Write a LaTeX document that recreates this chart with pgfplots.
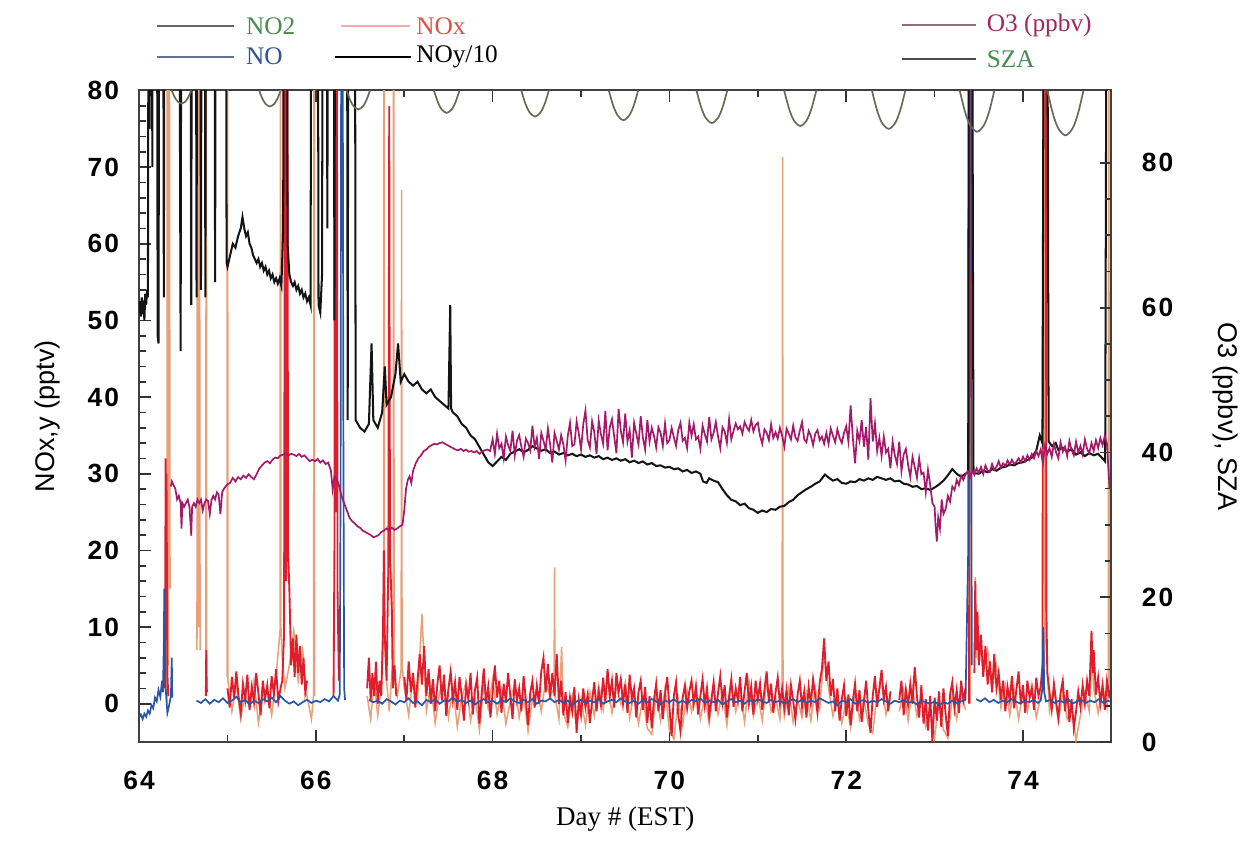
\documentclass[border=0pt]{standalone}
\usepackage{fontspec}
\setmainfont{Liberation Serif}
\setsansfont{Liberation Sans}
\newfontfamily\tickfont[LetterSpace=8]{Liberation Sans}
\usepackage{pgfplots}
\pgfplotsset{compat=1.18}

\definecolor{noxred}{RGB}{222,30,45}
\definecolor{notwo}{RGB}{233,160,120}
\definecolor{noblue}{RGB}{40,85,165}
\definecolor{noyblack}{RGB}{20,20,20}
\definecolor{othree}{RGB}{165,25,105}
\definecolor{szacol}{RGB}{105,105,85}
\definecolor{txtgreen}{RGB}{70,140,80}
\definecolor{txtred}{RGB}{220,80,70}
\definecolor{txtblue}{RGB}{50,80,150}
\definecolor{txtpurple}{RGB}{160,40,90}

\pgfplotsset{
  common/.style={
    scale only axis, width=288pt, height=193pt,
    xmin=64, xmax=75,
    axis line style={black!75, line width=0.6pt},
    tick style={black!80, line width=0.5pt},
    major tick length=3.5pt, minor tick length=2pt,
    tick align=inside,
    /pgf/number format/assume math mode=true,
    tick label style={font=\tickfont\bfseries\fontsize{7.8}{9}\selectfont},
    unbounded coords=jump,
  },
}

\begin{document}
\begin{tikzpicture}
\begin{axis}[common, name=main,
  ymin=-5, ymax=80,
  xtick={64,66,...,74}, minor xtick={65,67,...,75},
  ytick={0,10,...,80}, minor y tick num=4,
  ytick pos=left,
  xticklabel style={yshift=-5.2pt},
  yticklabel style={xshift=-2.4pt},
  xlabel={Day \# (EST)},
  xlabel style={font=\fontsize{8}{9}\selectfont, at={(axis description cs:0.5,-0.1175)}, anchor=center},
  ylabel={NOx,y (pptv)},
  ylabel style={font=\sffamily\fontsize{8}{9}\selectfont, at={(axis description cs:-0.094,0.5)}, anchor=center},
]
% NO2
\addplot[notwo, line width=0.45pt] coordinates {
(64.315,0) (64.320,120) (64.330,5) (64.340,120) (64.350,15) (64.36,nan)
(64.655,7) (64.660,120) (64.670,10) (64.680,120) (64.690,7) (64.70,nan)
(64.755,1.3) (64.760,120) (64.765,1.5) (64.77,nan)
(64.995,3.5) (65.000,120) (65.005,3) (65.05,-1.0) (65.10,2.5) (65.15,-2.0) (65.20,1.5) (65.25,-0.5) (65.30,3.0) (65.35,-2.5) (65.40,1.0) (65.45,2.0) (65.50,-1.5) (65.55,3.5) (65.595,9.6) (65.600,120) (65.605,10) (65.62,6) (65.65,2) (65.70,5) (65.75,9.5) (65.80,3) (65.85,7) (65.90,1) (65.95,-2) (65.975,1.3) (65.980,120) (65.985,1) (66.0,nan)
(66.58,1) (66.62,-2) (66.66,3) (66.70,-1.5) (66.74,2) (66.765,8.7) (66.770,120) (66.775,9) (66.80,3) (66.83,-1) (66.86,4) (66.875,5) (66.880,120) (66.885,4) (66.92,1) (66.965,4.4) (66.970,67) (66.975,5)
(67.00,2.0) (67.05,-1.5) (67.10,3.5) (67.15,0.5) (67.20,11.7) (67.25,-1.0) (67.30,2.5) (67.35,-2.5) (67.40,1.5) (67.45,3.0) (67.50,-1.8) (67.55,2.2) (67.60,-3.0) (67.65,0.8) (67.70,2.8) (67.75,-2.2) (67.80,1.0) (67.85,-3.4) (67.90,2.4) (67.95,-0.6)
(68.00,3.2) (68.05,-1.4) (68.10,1.8) (68.15,-2.6) (68.20,0.4) (68.25,2.6) (68.30,-1.8) (68.35,1.2) (68.40,-3.6) (68.45,0.6) (68.50,2.0) (68.55,-1.0) (68.60,3.0) (68.65,1.0) (68.695,2) (68.700,17.8) (68.705,1) (68.75,-2.0) (68.78,7.4) (68.80,-1.2) (68.85,-3.0) (68.90,1.0) (68.95,-3.0)
(69.00,0.5) (69.05,-2.8) (69.10,1.5) (69.15,-1.6) (69.20,2.4) (69.25,-0.8) (69.30,3.0) (69.35,-1.2) (69.40,2.2) (69.45,0.0) (69.50,2.8) (69.55,-1.8) (69.60,1.4) (69.65,-2.6) (69.70,0.8) (69.75,-3.2) (69.80,-4.0) (69.85,1.2) (69.90,-2.2) (69.95,2.0)
(70.00,-3.5) (70.05,-4.6) (70.10,0.6) (70.15,-2.8) (70.20,1.8) (70.25,-1.0) (70.30,2.4) (70.35,-2.0) (70.40,1.0) (70.45,-2.6) (70.50,2.2) (70.55,-1.4) (70.60,1.6) (70.65,-2.8) (70.70,2.6) (70.75,-1.0) (70.80,1.4) (70.85,-2.4) (70.90,3.0) (70.95,-1.6)
(71.00,1.2) (71.05,-2.2) (71.10,2.8) (71.15,-1.0) (71.20,0.8) (71.25,-2.0) (71.275,1.5) (71.280,71.3) (71.285,1.0) (71.30,-1.6) (71.35,2.0) (71.40,-2.4) (71.45,0.6) (71.50,-1.8) (71.55,1.4) (71.60,-2.2) (71.65,2.0) (71.70,-0.6) (71.75,6.5) (71.80,2.0) (71.85,-1.6) (71.90,1.0) (71.95,-2.6)
(72.00,0.4) (72.05,-3.2) (72.10,1.6) (72.15,-2.0) (72.20,0.6) (72.25,-2.8) (72.30,-3.8) (72.35,1.2) (72.40,2.6) (72.45,-1.4) (72.50,0.8) (72.52,nan) (72.60,-1.0) (72.65,1.8) (72.70,-2.2) (72.75,2.0) (72.80,-1.6) (72.85,0.6) (72.90,-3.0) (72.95,-1.0)
(73.00,-4.4) (73.05,0.2) (73.10,-3.4) (73.15,-4.5) (73.20,1.0) (73.25,-2.0) (73.30,1.6) (73.35,-0.8) (73.37,nan)
(73.395,0) (73.400,120) (73.405,0) (73.41,nan)
(73.45,5) (73.46,16.5) (73.47,6) (73.50,9) (73.55,4) (73.60,7) (73.65,2) (73.70,5) (73.75,-0.5) (73.80,2.5) (73.85,-1.5) (73.90,2.0) (73.95,-2.0) (74.00,1.5) (74.05,-1.0) (74.10,2.5) (74.15,-1.8) (74.20,1.0) (74.245,5) (74.250,120) (74.255,11.7) (74.28,3) (74.30,-1.0) (74.35,2.0) (74.40,-2.4) (74.45,1.5) (74.50,-2.0) (74.55,-0.5) (74.60,-4.8) (74.65,-1.5) (74.70,1.5) (74.75,-1.0) (74.78,6.0) (74.80,2.0) (74.85,-1.2) (74.90,2.5) (74.95,-0.5) (74.965,3) (74.970,120) (74.975,2.0) (75.00,1.0)
};
% NOx
\addplot[noxred, line width=0.55pt] coordinates {
(64.290,2) (64.295,10) (64.300,32) (64.305,16) (64.310,30) (64.315,18) (64.320,4) (64.330,1) (64.34,nan)
(64.755,1) (64.760,7) (64.765,2) (64.770,1.5) (64.78,nan)
(65.000,2.0) (65.025,-0.5) (65.050,3.5) (65.075,0.8) (65.100,4.2) (65.125,1.0) (65.150,-1.2) (65.175,2.6) (65.200,0.5) (65.225,3.8) (65.250,-0.8) (65.275,2.2) (65.300,0.2) (65.325,4.0) (65.350,1.4) (65.375,-1.5) (65.400,3.0) (65.425,0.6) (65.450,2.4) (65.475,-0.6) (65.500,3.6) (65.525,1.2) (65.550,4.5) (65.575,0.3) (65.600,2.0)
(65.620,3) (65.640,9) (65.655,120) (65.665,16) (65.675,120) (65.685,20) (65.700,15) (65.720,5) (65.740,8.5) (65.760,3.5) (65.780,9) (65.800,4) (65.820,7.5) (65.840,2.5) (65.860,6) (65.880,1.5) (65.900,3) (65.91,nan)
(66.200,1) (66.210,20) (66.215,120) (66.225,25) (66.235,120) (66.245,15) (66.260,3) (66.27,nan)
(66.58,2) (66.60,6) (66.62,0.5) (66.64,4) (66.66,1) (66.68,5.5) (66.70,0) (66.72,3) (66.74,1) (66.76,10) (66.77,20) (66.78,9) (66.80,3) (66.82,18) (66.83,78) (66.835,40) (66.84,19) (66.86,12) (66.87,2) (66.89,5) (66.91,1) (66.93,nan)
(67.000,3.5) (67.025,0.5) (67.050,5.5) (67.075,1.5) (67.100,4.0) (67.125,-0.5) (67.150,3.0) (67.175,6.5) (67.200,2.5) (67.225,7.5) (67.250,1.0) (67.275,4.5) (67.300,0.0) (67.325,3.2) (67.350,-1.0) (67.375,2.6) (67.400,5.0) (67.425,0.4) (67.450,3.8) (67.475,-1.6) (67.500,2.0) (67.525,4.2) (67.550,0.5) (67.575,2.8) (67.600,-0.8) (67.625,3.5) (67.650,1.0) (67.675,-2.2) (67.700,2.4) (67.725,0.6) (67.750,4.0) (67.775,-1.4) (67.800,1.8) (67.825,3.4) (67.850,-2.6) (67.875,1.2) (67.900,4.6) (67.925,0.0) (67.950,2.2) (67.975,-1.8)
(68.000,1.5) (68.025,5.0) (68.050,0.8) (68.075,3.0) (68.100,-1.2) (68.125,2.6) (68.150,0.2) (68.175,4.0) (68.200,1.0) (68.225,-2.0) (68.250,3.2) (68.275,0.4) (68.300,2.0) (68.325,-1.0) (68.350,3.6) (68.375,0.6) (68.400,-2.8) (68.425,1.4) (68.450,3.0) (68.475,-0.5) (68.500,2.4) (68.525,0.0) (68.550,4.2) (68.575,6.0) (68.600,1.5) (68.625,5.2) (68.650,0.8) (68.675,4.0) (68.700,1.0) (68.725,6.5) (68.750,0.0) (68.775,3.0) (68.800,-1.5) (68.825,1.5) (68.850,-2.5) (68.875,0.8) (68.900,-1.0) (68.925,2.2) (68.950,-3.8) (68.975,0.5)
(69.000,-1.5) (69.025,2.0) (69.050,-0.5) (69.075,1.2) (69.100,-2.5) (69.125,0.4) (69.150,2.8) (69.175,-1.0) (69.200,1.6) (69.225,-0.2) (69.250,3.4) (69.275,0.2) (69.300,4.5) (69.325,1.0) (69.350,3.0) (69.375,-0.5) (69.400,4.0) (69.425,1.5) (69.450,3.2) (69.475,0.0) (69.500,2.5) (69.525,-1.2) (69.550,3.8) (69.575,0.6) (69.600,2.0) (69.625,-1.8) (69.650,1.5) (69.675,3.0) (69.700,-0.8) (69.725,2.2) (69.750,-2.5) (69.775,1.0) (69.800,-3.2) (69.825,0.5) (69.850,2.6) (69.875,-1.0) (69.900,1.8) (69.925,-2.0) (69.950,1.2) (69.975,3.5)
(70.000,-0.5) (70.025,-4.2) (70.050,1.0) (70.075,2.8) (70.100,-1.5) (70.125,-3.6) (70.150,0.8) (70.175,2.4) (70.200,-0.6) (70.225,1.6) (70.250,3.0) (70.275,0.0) (70.300,2.2) (70.325,-1.4) (70.350,1.0) (70.375,3.2) (70.400,-0.2) (70.425,2.0) (70.450,-1.6) (70.475,0.6) (70.500,2.8) (70.525,-1.0) (70.550,1.4) (70.575,3.6) (70.600,0.2) (70.625,2.4) (70.650,-1.8) (70.675,1.0) (70.700,3.2) (70.725,-0.4) (70.750,2.0) (70.775,0.4) (70.800,3.5) (70.825,-1.0) (70.850,1.6) (70.875,4.0) (70.900,0.0) (70.925,2.2) (70.950,-1.4) (70.975,3.0)
(71.000,0.6) (71.025,2.6) (71.050,-0.8) (71.075,1.8) (71.100,4.2) (71.125,0.2) (71.150,2.6) (71.175,-1.2) (71.200,1.4) (71.225,3.4) (71.250,0.0) (71.275,2.0) (71.300,-0.6) (71.325,1.8) (71.350,-1.5) (71.375,2.4) (71.400,0.4) (71.425,-2.0) (71.450,1.2) (71.475,3.0) (71.500,-0.4) (71.525,1.6) (71.550,-1.8) (71.575,2.2) (71.600,0.0) (71.625,3.2) (71.650,1.0) (71.675,-1.2) (71.700,2.8) (71.725,4.5) (71.750,8.5) (71.775,3.0) (71.800,5.5) (71.825,1.0) (71.850,3.2) (71.875,-1.0) (71.900,2.0) (71.925,-2.2) (71.950,0.6) (71.975,2.4)
(72.000,-1.6) (72.025,1.2) (72.050,-2.8) (72.075,0.4) (72.100,2.6) (72.125,-1.0) (72.150,1.8) (72.175,-2.4) (72.200,0.2) (72.225,3.0) (72.250,-0.8) (72.275,-3.8) (72.300,1.0) (72.325,3.6) (72.350,-0.4) (72.375,2.0) (72.400,4.4) (72.425,0.6) (72.450,2.2) (72.475,-1.0) (72.500,1.6) (72.525,nan) (72.600,0.5) (72.625,3.0) (72.650,-1.5) (72.675,1.8) (72.700,-0.2) (72.725,2.6) (72.750,0.0) (72.775,4.8) (72.800,1.0) (72.825,-1.8) (72.850,2.4) (72.875,-2.6) (72.900,0.6) (72.925,-3.5) (72.950,1.0) (72.975,-5.0)
(73.000,0.8) (73.025,-2.2) (73.050,1.6) (73.075,-3.0) (73.100,2.0) (73.125,-1.4) (73.150,-4.2) (73.175,1.2) (73.200,2.8) (73.225,-0.6) (73.250,1.8) (73.275,-1.2) (73.300,3.0) (73.325,0.4) (73.350,2.0) (73.365,nan)
(73.390,0) (73.400,120) (73.410,40) (73.415,nan)
(73.450,4) (73.460,16) (73.470,7) (73.485,12) (73.500,5) (73.525,9) (73.550,3.5) (73.575,7.5) (73.600,2.5) (73.625,5.5) (73.650,1.5) (73.675,6.5) (73.700,2.0) (73.725,4.0) (73.750,0.5) (73.775,3.0) (73.800,-1.0) (73.825,2.2) (73.850,0.4) (73.875,3.6) (73.900,-0.6) (73.925,1.8) (73.950,4.2) (73.975,0.0)
(74.000,2.4) (74.025,-1.2) (74.050,3.0) (74.075,0.8) (74.100,2.0) (74.125,-0.8) (74.150,3.4) (74.175,1.0) (74.200,2.2) (74.220,5) (74.235,120) (74.245,80) (74.255,120) (74.265,12) (74.275,4) (74.300,1.5) (74.325,-0.8) (74.350,2.6) (74.375,0.2) (74.400,-1.8) (74.425,1.4) (74.450,3.0) (74.475,-1.0) (74.500,1.8) (74.525,-2.4) (74.550,0.6) (74.575,-3.2) (74.600,-1.0) (74.625,1.6) (74.650,-0.4) (74.675,2.4) (74.700,0.0) (74.725,3.0) (74.750,1.0) (74.775,9.5) (74.790,4) (74.800,7.0) (74.825,1.2) (74.850,3.4) (74.875,0.0) (74.900,2.4) (74.925,-0.8) (74.950,3.0) (74.975,1.0) (75.000,2.0)
};
% NO
\addplot[noblue, line width=0.5pt] coordinates {
(64.00,-1.8) (64.02,-1.4) (64.04,-2.0) (64.06,-1.3) (64.08,-1.7) (64.10,-0.9) (64.12,-1.3) (64.14,-0.2) (64.16,-0.6) (64.18,0.8) (64.20,0.3) (64.22,1.8) (64.24,0.9) (64.26,3.0) (64.27,1.5) (64.28,8) (64.285,15) (64.29,10) (64.30,2) (64.31,0.4) (64.32,-1.2) (64.34,-0.2) (64.36,1.0) (64.37,6) (64.375,0.8) (64.38,nan)
(64.65,0.4) (64.70,0.1) (64.75,0.6) (64.80,0.0) (64.85,0.5) (64.90,0.2) (64.95,0.7) (65.00,0.1) (65.05,0.4) (65.10,0.9) (65.15,0.2) (65.20,0.5) (65.25,-0.1) (65.30,0.4) (65.35,0.1) (65.40,0.6) (65.45,0.3) (65.50,0.8) (65.55,0.2) (65.60,1.0) (65.65,0.4) (65.70,0.0) (65.75,0.3) (65.80,-0.2) (65.85,0.2) (65.90,0.5) (65.95,0.1) (66.00,0.4) (66.05,0.2) (66.10,0.6) (66.15,0.3) (66.20,1.0) (66.25,0.4) (66.27,1.2) (66.28,30) (66.29,120) (66.30,120) (66.31,40) (66.32,2) (66.33,0.5) (66.34,nan)
(66.60,0.5) (66.65,0.2) (66.70,0.4) (66.75,0.0) (66.80,0.6) (66.85,0.3) (66.90,-0.1) (66.95,0.4) (67.00,0.2) (67.05,0.7) (67.10,0.1) (67.15,0.3) (67.20,-0.2) (67.25,0.5) (67.30,0.2) (67.35,0.6) (67.40,0.0) (67.45,0.4) (67.50,0.3) (67.55,0.8) (67.60,0.2) (67.65,0.5) (67.70,0.1) (67.75,0.4) (67.80,-0.1) (67.85,0.3) (67.90,0.6) (67.95,0.2)
(68.00,0.4) (68.05,0.0) (68.10,0.5) (68.15,0.2) (68.20,0.7) (68.25,0.3) (68.30,0.1) (68.35,0.5) (68.40,0.2) (68.45,0.6) (68.50,0.0) (68.55,0.4) (68.60,0.3) (68.65,0.7) (68.70,0.2) (68.75,0.5) (68.80,0.1) (68.85,0.4) (68.90,-0.2) (68.95,0.3)
(69.00,0.5) (69.05,0.1) (69.10,0.4) (69.15,0.2) (69.20,0.6) (69.25,0.0) (69.30,0.3) (69.35,0.5) (69.40,0.2) (69.45,0.7) (69.50,0.3) (69.55,0.1) (69.60,0.4) (69.65,0.0) (69.70,0.5) (69.75,0.2) (69.80,0.6) (69.85,0.3) (69.90,-0.1) (69.95,0.4)
(70.00,0.2) (70.05,0.6) (70.10,0.1) (70.15,0.4) (70.20,0.0) (70.25,0.5) (70.30,0.3) (70.35,0.7) (70.40,0.1) (70.45,0.4) (70.50,0.2) (70.55,0.5) (70.60,-0.1) (70.65,0.3) (70.70,0.6) (70.75,0.2) (70.80,0.4) (70.85,0.0) (70.90,0.5) (70.95,0.2)
(71.00,0.6) (71.05,0.3) (71.10,0.1) (71.15,0.5) (71.20,0.2) (71.25,0.4) (71.30,0.0) (71.35,0.3) (71.40,0.6) (71.45,0.2) (71.50,0.5) (71.55,0.1) (71.60,0.4) (71.65,0.2) (71.70,0.7) (71.75,0.4) (71.80,0.1) (71.85,0.3) (71.90,-0.2) (71.95,0.4)
(72.00,0.2) (72.05,0.6) (72.10,0.0) (72.15,0.3) (72.20,0.5) (72.25,0.1) (72.30,0.4) (72.35,0.2) (72.40,0.6) (72.45,0.3) (72.50,0.0) (72.55,0.4) (72.60,0.2) (72.65,0.5) (72.70,0.1) (72.75,0.3) (72.80,-0.1) (72.85,0.4) (72.90,0.2) (72.95,0.0)
(73.00,0.3) (73.05,-0.2) (73.10,0.2) (73.15,0.0) (73.20,0.4) (73.25,0.1) (73.30,0.3) (73.35,0.5) (73.38,20) (73.39,120) (73.41,120) (73.42,5) (73.43,nan)
(73.47,0.6) (73.52,0.3) (73.57,0.7) (73.62,0.2) (73.67,0.5) (73.72,0.1) (73.77,0.4) (73.82,0.2) (73.87,0.6) (73.92,0.3) (73.97,0.0) (74.02,0.4) (74.07,0.2) (74.12,0.5) (74.17,0.1) (74.20,0.4) (74.22,2) (74.23,10) (74.24,1.5) (74.26,0.3) (74.31,0.5) (74.36,0.1) (74.41,0.4) (74.46,0.2) (74.51,0.6) (74.56,0.0) (74.61,0.3) (74.66,0.5) (74.71,0.1) (74.76,0.4) (74.81,0.2) (74.86,0.6) (74.91,0.1) (74.96,0.4) (75.00,0.2)
};
% NOy/10
\addplot[noyblack, line width=0.6pt] coordinates {
(64.00,51) (64.01,52.5) (64.02,50.5) (64.03,53) (64.04,51.5) (64.05,52) (64.06,50) (64.07,53.5) (64.08,52) (64.09,54) (64.10,53) (64.11,120) (64.12,75) (64.125,120) (64.14,120) (64.15,70) (64.155,120) (64.20,120) (64.21,48) (64.22,47) (64.23,120) (64.27,120) (64.28,53) (64.29,120) (64.45,120) (64.47,46) (64.48,120) (64.58,120) (64.59,52) (64.60,120) (64.64,120) (64.65,53) (64.66,120) (64.69,120) (64.70,54) (64.71,120) (64.74,120) (64.75,53) (64.76,120) (64.85,120) (64.86,55) (64.87,120) (64.98,120) (64.99,57.5)
(65.00,57) (65.03,58.5) (65.06,60) (65.09,59.5) (65.12,61) (65.15,62) (65.17,63.5) (65.19,62) (65.21,61) (65.23,61.5) (65.25,60) (65.27,59.5) (65.29,58.5) (65.31,58) (65.33,57.5) (65.35,58) (65.37,57) (65.39,57.5) (65.41,56.5) (65.43,57) (65.45,56) (65.47,56.5) (65.49,55.5) (65.51,56) (65.53,55) (65.55,55.5) (65.57,54.8) (65.59,55.5) (65.61,54.5) (65.63,62) (65.64,120) (65.67,120) (65.68,60) (65.70,56) (65.72,55) (65.74,54.5) (65.76,55) (65.78,54) (65.80,54.5) (65.82,53.5) (65.84,54) (65.86,53) (65.88,53.5) (65.90,52.5) (65.92,53) (65.94,52) (65.95,120) (66.02,120) (66.03,52) (66.05,51) (66.07,56) (66.08,120) (66.12,120) (66.13,62) (66.14,120) (66.20,120) (66.21,50) (66.22,120) (66.35,120) (66.36,37) (66.37,120) (66.44,120)
(66.45,37) (66.50,36) (66.55,35.5) (66.60,36.5) (66.63,47) (66.65,37) (66.70,36) (66.75,38) (66.78,44) (66.80,39) (66.85,40) (66.90,43) (66.93,47) (66.96,42) (67.00,43) (67.05,42) (67.10,41.5) (67.15,42) (67.20,41) (67.25,40.5) (67.30,41) (67.35,40) (67.40,39.5) (67.45,39) (67.50,38.5) (67.52,52) (67.53,38.5) (67.55,38) (67.60,37.5) (67.65,36.5) (67.70,36) (67.75,35) (67.80,34.5) (67.85,33.5) (67.90,32.5) (67.95,31.5)
(68.00,31) (68.05,31.6) (68.10,32.2) (68.15,31.8) (68.20,32.6) (68.25,32.9) (68.30,33.2) (68.35,32.8) (68.40,33.1) (68.45,33.6) (68.50,33.3) (68.55,33.0) (68.60,33.2) (68.65,32.7) (68.70,32.9) (68.75,32.5) (68.80,32.7) (68.85,32.4) (68.90,32.6) (68.95,32.3)
(69.00,32.5) (69.05,32.2) (69.10,32.4) (69.15,32.1) (69.20,32.3) (69.25,31.9) (69.30,32.1) (69.35,31.8) (69.40,32.0) (69.45,31.7) (69.50,31.9) (69.55,31.5) (69.60,31.7) (69.65,31.4) (69.70,31.6) (69.75,31.2) (69.80,31.4) (69.85,31.0) (69.90,31.1) (69.95,30.8)
(70.00,30.9) (70.05,30.6) (70.10,30.7) (70.15,30.3) (70.20,30.5) (70.25,30.1) (70.30,30.3) (70.35,30.0) (70.38,29.0) (70.42,28.8) (70.45,29.4) (70.50,29.1) (70.55,28.9) (70.60,28.0) (70.65,27.2) (70.70,26.6) (70.75,26.4) (70.80,25.9) (70.85,26.1) (70.90,25.5) (70.95,25.3)
(71.00,24.9) (71.05,25.2) (71.10,25.0) (71.15,25.4) (71.20,25.3) (71.25,25.7) (71.30,25.8) (71.35,26.3) (71.40,26.6) (71.45,27.2) (71.50,27.6) (71.55,28.0) (71.60,28.3) (71.65,28.7) (71.70,29.0) (71.76,29.9) (71.80,29.5) (71.85,29.1) (71.90,29.3) (71.95,28.8)
(72.00,28.7) (72.05,29.0) (72.10,28.9) (72.15,29.3) (72.20,29.1) (72.25,29.4) (72.30,29.2) (72.35,29.6) (72.40,29.4) (72.45,29.2) (72.50,29.4) (72.55,29.0) (72.60,29.1) (72.65,28.7) (72.70,28.6) (72.75,28.3) (72.80,28.4) (72.85,28.0) (72.90,28.1) (72.95,27.9)
(73.00,28.2) (73.05,28.6) (73.10,29.1) (73.15,29.8) (73.20,30.6) (73.25,30.0) (73.30,29.6) (73.35,30.0) (73.38,30.2) (73.39,120) (73.42,120) (73.44,30.1) (73.50,30.0) (73.55,30.4) (73.60,30.2) (73.65,30.6) (73.70,30.4) (73.75,30.8) (73.80,30.9) (73.85,31.2) (73.90,31.1) (73.95,31.4)
(74.00,31.5) (74.05,31.8) (74.10,32.1) (74.15,33.0) (74.19,35.0) (74.22,34.0) (74.24,120) (74.27,120) (74.29,34.2) (74.33,33.6) (74.37,34.0) (74.40,33.1) (74.45,33.4) (74.50,32.9) (74.55,33.2) (74.60,32.5) (74.65,32.8) (74.70,32.3) (74.75,32.7) (74.80,32.4) (74.85,32.6) (74.90,32.0) (74.93,31.6) (74.95,120) (75.00,120)
};
\end{axis}

\begin{axis}[common, at={(main.south west)}, anchor=south west,
  ymin=0, ymax=90,
  axis x line=none, axis y line*=right,
  ytick={0,20,...,80}, minor y tick num=3,
  yticklabel style={xshift=5.5pt},
  ylabel={O3 (ppbv), SZA},
  ylabel style={font=\sffamily\fontsize{8}{9}\selectfont, at={(axis description cs:1.117,0.5)}, anchor=center, rotate=180},
]
% O3
\addplot[othree, line width=0.5pt] coordinates {
(64.36,35.3) (64.37,36) (64.39,35.5) (64.41,35) (64.43,33.5) (64.45,34) (64.47,33) (64.48,29.5) (64.49,33) (64.51,32.5) (64.53,33) (64.55,33.5) (64.57,32.5) (64.59,28.5) (64.60,32.5) (64.62,33) (64.64,32.5) (64.66,33.5) (64.68,33) (64.70,33.5) (64.72,32) (64.74,33) (64.76,33.5) (64.78,33.3) (64.80,31.5) (64.82,33.5) (64.84,34) (64.86,33.5) (64.88,34.5) (64.90,34.2) (64.92,31.5) (64.94,34.5) (64.96,35) (64.98,35.3)
(65.00,35.6) (65.03,35.8) (65.06,36.5) (65.09,36) (65.12,36.6) (65.15,36.3) (65.18,36.8) (65.21,36.5) (65.24,37) (65.27,36.6) (65.30,36.3) (65.33,37) (65.36,37.8) (65.39,38.2) (65.42,38.6) (65.45,38.8) (65.48,38.5) (65.51,39) (65.54,39.3) (65.57,39.2) (65.60,39.6) (65.63,39.7) (65.66,39.9) (65.69,39.6) (65.72,39.8) (65.75,39.7) (65.78,39.5) (65.81,39.8) (65.84,39.4) (65.87,39.6) (65.90,39.2) (65.93,38.8) (65.96,39) (65.99,38.8)
(66.02,39.1) (66.05,38.6) (66.08,38.9) (66.11,38.4) (66.14,38.6) (66.17,37.5) (66.19,34.9) (66.21,36.7) (66.23,36.5) (66.26,35.5) (66.29,34) (66.32,33) (66.35,32) (66.38,31) (66.41,30.5) (66.44,30.2) (66.47,29.8) (66.50,29.6) (66.53,29.2) (66.56,29.0) (66.59,28.8) (66.62,28.6) (66.65,28.3) (66.68,28.4) (66.71,28.6) (66.74,29) (66.77,29.2) (66.80,29.5) (66.83,29.2) (66.86,29.6) (66.89,29.3) (66.92,29.5) (66.95,29.8) (66.98,30)
(67.00,32) (67.02,35) (67.04,36.2) (67.06,36.7) (67.08,35.8) (67.10,37.5) (67.13,38.5) (67.16,39.2) (67.19,39.6) (67.22,40.2) (67.25,40.4) (67.28,40.8) (67.31,41) (67.34,41.2) (67.37,41.1) (67.40,41.3) (67.43,41.4) (67.46,41.2) (67.49,41) (67.52,40.8) (67.55,40.6) (67.58,40.4) (67.61,40.3) (67.64,40.5) (67.67,40.2) (67.70,40.4) (67.73,40.1) (67.76,40.2) (67.79,40) (67.82,40.2) (67.85,39.8) (67.88,40.1) (67.91,40.3) (67.94,40.4) (67.97,40.2)
(68.000,41.8) (68.025,39.8) (68.050,42.6) (68.075,40.6) (68.100,41.2) (68.125,39.2) (68.150,42.2) (68.175,41.0) (68.200,40.2) (68.225,43.0) (68.250,39.6) (68.275,41.6) (68.300,42.4) (68.325,40.8) (68.350,39.4) (68.375,41.9) (68.400,41.3)
(68.425,40.3) (68.450,43.7) (68.475,40.8) (68.500,42.0) (68.525,39.1) (68.550,42.7) (68.575,41.6) (68.600,40.4) (68.625,43.3) (68.650,41.1) (68.675,38.6) (68.700,42.7) (68.725,41.6) (68.750,40.4) (68.775,42.4) (68.800,41.1) (68.825,38.9) (68.850,42.3) (68.875,44.1) (68.900,40.9)
(68.925,41.1) (68.950,44.3) (68.975,42.6) (69.000,40.4) (69.025,43.9) (69.050,45.8) (69.075,41.7) (69.100,40.7) (69.125,44.3) (69.150,42.8) (69.175,39.8) (69.200,44.4) (69.225,42.5) (69.250,41.2) (69.275,45.7) (69.300,40.3) (69.325,43.5) (69.350,44.6) (69.375,42.2) (69.400,39.9) (69.425,46.0) (69.450,43.0) (69.475,41.4) (69.500,45.4) (69.525,41.5) (69.550,43.1) (69.575,39.3) (69.600,44.1) (69.625,42.6) (69.650,41.1) (69.675,45.0) (69.700,42.0)
(69.725,40.4) (69.750,44.5) (69.775,41.5) (69.800,43.4) (69.825,42.3) (69.850,40.7) (69.875,43.5) (69.900,42.7) (69.925,40.9) (69.950,44.0) (69.975,41.3) (70.000,41.7) (70.025,43.4) (70.050,42.1) (70.075,40.9) (70.100,43.1) (70.125,44.1) (70.150,41.6) (70.175,42.0) (70.200,40.6) (70.225,44.1) (70.250,42.3) (70.275,43.9) (70.300,41.8) (70.325,42.2) (70.350,40.5) (70.375,43.7) (70.400,42.5) (70.425,41.5) (70.450,44.9) (70.475,41.8) (70.500,42.7) (70.525,44.2) (70.550,42.2) (70.575,40.6) (70.600,43.5) (70.625,42.9) (70.650,41.3) (70.675,44.6) (70.700,41.8)
(70.725,43.0) (70.750,44.0) (70.775,43.2) (70.800,43.6) (70.825,42.6) (70.850,44.2) (70.875,43.5) (70.900,43.0) (70.925,44.5) (70.950,42.9) (70.975,43.8) (71.000,44.1)
(71.025,42.3) (71.050,41.2) (71.075,43.2) (71.100,42.7) (71.125,41.7) (71.150,43.9) (71.175,42.0) (71.200,42.8) (71.225,41.9) (71.250,43.4) (71.275,42.3) (71.300,40.8) (71.325,43.3) (71.350,42.6) (71.375,41.8) (71.400,43.7) (71.425,42.1) (71.450,41.6) (71.475,43.0) (71.500,44.2)
(71.525,41.8) (71.550,41.4) (71.575,43.0) (71.600,42.3) (71.625,41.0) (71.650,42.6) (71.675,43.1) (71.700,41.7) (71.725,42.2) (71.750,41.2) (71.775,42.7) (71.800,41.2) (71.825,43.3) (71.850,42.3) (71.875,41.4) (71.900,43.2) (71.925,42.0) (71.950,41.3) (71.975,42.7) (72.000,43.6)
(72.025,41.5) (72.050,46.5) (72.075,42.0) (72.100,38.5) (72.125,43.0) (72.150,41.6) (72.175,44.5) (72.200,40.8) (72.225,43.5) (72.250,39.0) (72.275,47.5) (72.300,41.5) (72.325,44.0) (72.350,40.2)
(72.375,42.0) (72.400,39.5) (72.425,42.2) (72.450,40.0) (72.475,40.5) (72.500,37.8) (72.525,41.5) (72.550,39.6) (72.575,38.4) (72.600,41.5) (72.625,37.4) (72.650,39.7) (72.675,40.5) (72.700,38.3) (72.725,36.6) (72.750,39.4) (72.775,38.0) (72.800,36.5) (72.825,39.2) (72.850,37.0) (72.875,37.2) (72.900,34.5) (72.925,37.6) (72.950,35.5)
(72.975,33.0) (73.000,32.5) (73.010,30) (73.025,27.7) (73.040,31) (73.060,29.5) (73.080,33.5) (73.100,31.5) (73.125,32.2) (73.150,34.0) (73.175,33.2) (73.200,35.3) (73.225,34.8) (73.250,36.2) (73.275,35.5) (73.300,36.8) (73.325,36.2) (73.350,37.0) (73.375,37.4) (73.400,36.5) (73.425,37.6) (73.450,36.9) (73.475,37.8) (73.500,37.2) (73.525,38.0) (73.550,37.0) (73.575,38.2) (73.600,37.5) (73.625,37.3) (73.650,38.4) (73.675,37.6) (73.700,38.0) (73.725,38.8) (73.750,37.9) (73.775,38.5) (73.800,38.1) (73.825,38.9) (73.850,38.3) (73.875,39.0) (73.900,38.4) (73.925,38.7) (73.950,39.2) (73.975,38.6)
(74.000,39.4) (74.025,38.8) (74.050,39.6) (74.075,39.0) (74.100,39.8) (74.125,39.2) (74.150,40.2) (74.175,39.5) (74.200,40.4) (74.225,38.5) (74.250,41.0) (74.275,39.8) (74.300,40.6) (74.325,39.4) (74.350,41.2) (74.375,40.0) (74.400,39.2) (74.425,41.4) (74.450,40.1) (74.475,40.8) (74.500,39.5) (74.525,41.6) (74.550,40.3) (74.575,39.6) (74.600,41.5) (74.625,40.0) (74.650,40.9) (74.675,39.7) (74.700,41.8) (74.725,40.5) (74.750,39.9) (74.775,41.3) (74.800,40.2) (74.825,41.7) (74.850,40.6) (74.875,42.0) (74.900,41.0) (74.925,42.3) (74.950,41.2) (74.965,38) (74.980,35)
};
% SZA (only the part below 90 deg is shown)
\addplot[szacol, line width=0.5pt, smooth] coordinates {
(64.370,90) (64.403,89.08) (64.436,88.49) (64.480,88.20) (64.524,88.49) (64.557,89.08) (64.590,90) (64.60,nan)
(65.358,90) (65.395,88.88) (65.431,88.15) (65.480,87.80) (65.529,88.15) (65.565,88.88) (65.602,90) (65.61,nan)
(66.348,90) (66.388,88.67) (66.427,87.82) (66.480,87.40) (66.533,87.82) (66.572,88.67) (66.612,90) (66.62,nan)
(67.336,90) (67.379,88.42) (67.422,87.40) (67.480,86.90) (67.538,87.40) (67.581,88.42) (67.624,90) (67.63,nan)
(68.324,90) (68.371,88.16) (68.418,86.98) (68.480,86.40) (68.542,86.98) (68.589,88.16) (68.636,90) (68.64,nan)
(69.314,90) (69.364,87.91) (69.414,86.56) (69.480,85.90) (69.546,86.56) (69.596,87.91) (69.646,90) (69.65,nan)
(70.306,90) (70.358,87.71) (70.410,86.22) (70.480,85.50) (70.550,86.22) (70.602,87.71) (70.654,90) (70.66,nan)
(71.298,90) (71.353,87.50) (71.407,85.88) (71.480,85.10) (71.553,85.88) (71.607,87.50) (71.662,90) (71.67,nan)
(72.291,90) (72.348,87.30) (72.404,85.55) (72.480,84.70) (72.556,85.55) (72.612,87.30) (72.669,90) (72.68,nan)
(73.284,90) (73.343,87.09) (73.402,85.21) (73.480,84.30) (73.558,85.21) (73.617,87.09) (73.676,90) (73.68,nan)
(74.276,90) (74.337,86.84) (74.398,84.79) (74.480,83.80) (74.562,84.79) (74.623,86.84) (74.684,90)
};
\end{axis}

% legend
\begin{scope}[shift={(main.north west)}, font=\fontsize{7.5}{9}\selectfont]
  \draw[black!60, line width=0.5pt] (5.3pt,19.1pt) -- (28pt,19.1pt);
  \node[anchor=west, inner sep=0pt, text=txtgreen] at (31.5pt,19.1pt) {NO2};
  \draw[red!35, line width=0.5pt] (59.8pt,19.1pt) -- (80.1pt,19.1pt);
  \node[anchor=west, inner sep=0pt, text=txtred] at (81.9pt,19.1pt) {NOx};
  \draw[txtblue!70!black!70, line width=0.5pt] (5.3pt,10pt) -- (28pt,10pt);
  \node[anchor=west, inner sep=0pt, text=txtblue] at (31.5pt,10pt) {NO};
  \draw[black, line width=0.6pt] (58pt,10pt) -- (80.4pt,10pt);
  \node[anchor=west, inner sep=0pt, text=black] at (81.9pt,10pt) {NOy/10};
  \draw[black!55!othree!60, line width=0.5pt] (225.9pt,19.4pt) -- (247.9pt,19.4pt);
  \node[anchor=west, inner sep=0pt, text=txtpurple] at (250.9pt,19.4pt) {O3 (ppbv)};
  \draw[black!70, line width=0.6pt] (225.9pt,9.4pt) -- (247.9pt,9.4pt);
  \node[anchor=west, inner sep=0pt, text=txtgreen] at (250.9pt,9.4pt) {SZA};
\end{scope}
\path ([shift={(-41.2pt,-28.6pt)}]main.south west) rectangle ([shift={(38.6pt,26.8pt)}]main.north east);
\end{tikzpicture}
\end{document}
